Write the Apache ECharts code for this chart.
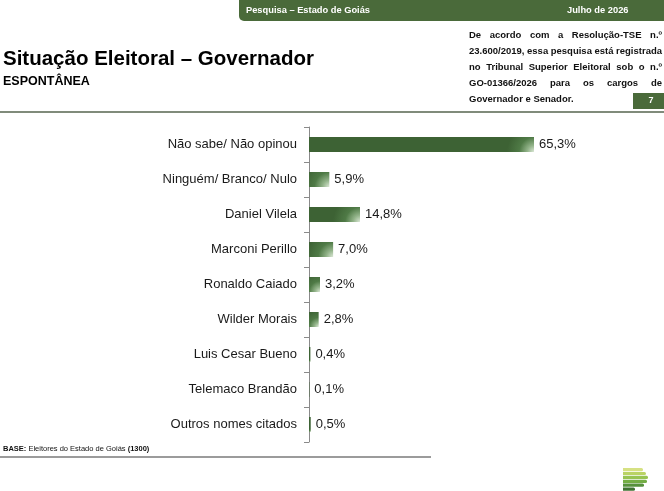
<!DOCTYPE html>
<html>
<head>
<meta charset="utf-8">
<script src="https://cdn.jsdelivr.net/npm/echarts@6/dist/echarts.min.js"></script>
<style>
  html, body { margin: 0; padding: 0; background: #fff; }
  #chart { width: 664px; height: 491px; }
</style>
</head>
<body>
<div id="chart"></div>
<script>
const categories = [
  "Não sabe/ Não opinou",
  "Ninguém/ Branco/ Nulo",
  "Daniel Vilela",
  "Marconi Perillo",
  "Ronaldo Caiado",
  "Wilder Morais",
  "Luis Cesar Bueno",
  "Telemaco Brandão",
  "Outros nomes citados",
];
const values = [65.3, 5.9, 14.8, 7.0, 3.2, 2.8, 0.4, 0.1, 0.5];

const noteLines = [
  "De acordo com a Resolução-TSE n.º",
  "23.600/2019, essa pesquisa está registrada",
  "no Tribunal Superior Eleitoral sob o n.º",
  "GO-01366/2026 para os cargos de",
  "Governador e Senador.",
];

const FONT = "'Liberation Sans', Arial, sans-serif";
const GREEN = "#4a6a3a";
const NOTE_FONT = "bold 9.5px " + FONT;

// lay out one justified line of the note as separate words
function justify(text, x0, x1, y, justifyIt) {
  const ctx = document.createElement("canvas").getContext("2d");
  ctx.font = NOTE_FONT;
  const words = text.split(" ");
  const widths = words.map((w) => ctx.measureText(w).width);
  const total = widths.reduce((a, b) => a + b, 0);
  const gap = justifyIt && words.length > 1
    ? (x1 - x0 - total) / (words.length - 1)
    : ctx.measureText(" ").width;
  let x = x0;
  return words.map((w, i) => {
    const el = {
      type: "text", x: x, y: y,
      style: { text: w, fill: "#111", font: NOTE_FONT, verticalAlign: "middle" },
    };
    x += widths[i] + gap;
    return el;
  });
}

const noteEls = [];
noteLines.forEach((l, i) => {
  noteEls.push(...justify(l, 469, 662, 35 + i * 16, i < noteLines.length - 1));
});

const logoColors = ["#d6e183", "#bad364", "#98c452", "#74ad45", "#56903c", "#3f7232"];
const logoWidths = [20, 23, 25, 24, 21, 12];
const logoEls = logoColors.map((c, i) => ({
  type: "rect",
  shape: { x: 623, y: 468 + i * 3.9, width: logoWidths[i], height: 3.2, r: [0, 1.5, 1.5, 0] },
  style: { fill: c },
}));

const chart = echarts.init(document.getElementById("chart"), null, { renderer: "canvas" });

chart.setOption({
  animation: false,
  backgroundColor: "#fff",
  textStyle: { fontFamily: FONT },
  grid: { left: 309, top: 127, width: 225, height: 315, outerBoundsMode: "none" },
  xAxis: {
    type: "value",
    min: 0,
    max: 65.3,
    show: false,
  },
  yAxis: {
    type: "category",
    inverse: true,
    data: categories,
    axisLine: { show: true, lineStyle: { color: "#8a8a8a", width: 1 } },
    axisTick: { show: true, length: 5, lineStyle: { color: "#8a8a8a" } },
    axisLabel: { color: "#1a1a1a", fontSize: 13, margin: 12, fontFamily: FONT },
    splitLine: { show: false },
  },
  series: [
    {
      type: "bar",
      data: values,
      barWidth: 15,
      itemStyle: {
        // light glint in the bottom-right corner of each bar
        color: new echarts.graphic.RadialGradient(1, 1, 1.8, [
          { offset: 0, color: "#dce8d7" },
          { offset: 0.25, color: "#92b389" },
          { offset: 0.55, color: "#4f7a46" },
          { offset: 1, color: "#3d6234" },
        ]),
      },
      label: {
        show: true,
        position: "right",
        distance: 5,
        color: "#1a1a1a",
        fontSize: 13,
        fontFamily: FONT,
        formatter: (p) => p.value.toFixed(1).replace(".", ",") + "%",
      },
    },
  ],
  graphic: [
    // header bar
    {
      type: "rect",
      shape: { x: 239, y: 0, width: 425, height: 21, r: [0, 0, 0, 5] },
      style: { fill: GREEN },
    },
    {
      type: "text", x: 246, y: 10,
      style: { text: "Pesquisa – Estado de Goiás", fill: "#fff", font: "bold 9.3px " + FONT, verticalAlign: "middle" },
    },
    {
      type: "text", x: 567, y: 10,
      style: { text: "Julho de 2026", fill: "#fff", font: "bold 9.3px " + FONT, verticalAlign: "middle" },
    },
    // title
    {
      type: "text", x: 3, y: 70,
      style: { text: "Situação Eleitoral – Governador", fill: "#000", font: "bold 20.5px " + FONT, verticalAlign: "bottom" },
    },
    {
      type: "text", x: 3, y: 88,
      style: { text: "ESPONTÂNEA", fill: "#000", font: "bold 12.5px " + FONT, verticalAlign: "bottom" },
    },
    ...noteEls,
    // page number
    {
      type: "rect",
      shape: { x: 633, y: 93, width: 31, height: 16 },
      style: { fill: GREEN },
    },
    {
      type: "text", x: 651, y: 101,
      style: { text: "7", fill: "#fff", font: "bold 9px " + FONT, align: "center", verticalAlign: "middle" },
    },
    // divider lines
    {
      type: "line",
      shape: { x1: 0, y1: 112, x2: 664, y2: 112 },
      style: { stroke: "#56654f", lineWidth: 1.5 },
    },
    {
      type: "line",
      shape: { x1: 0, y1: 457, x2: 431, y2: 457 },
      style: { stroke: "#7a7a7a", lineWidth: 1.5 },
    },
    {
      type: "text", x: 3, y: 449,
      style: {
        text: "{b|BASE:} Eleitores do Estado de Goiás {b|(1300)}",
        fill: "#111",
        font: "7.5px " + FONT,
        verticalAlign: "middle",
        rich: { b: { fontWeight: "bold", fontSize: 7.5, fontFamily: FONT, fill: "#111" } },
      },
    },
    ...logoEls,
  ],
});
</script>
</body>
</html>
